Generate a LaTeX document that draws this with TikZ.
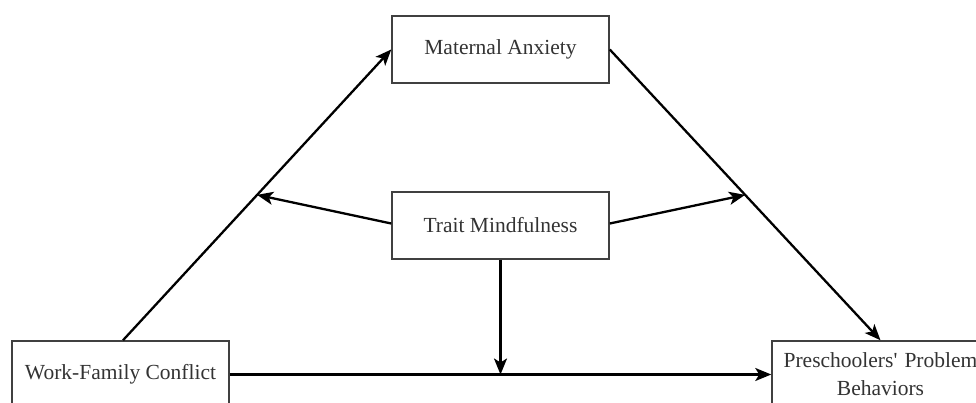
\documentclass[tikz,border=0pt]{standalone}
\usepackage{fontspec}
\setmainfont{Liberation Serif}
\usetikzlibrary{arrows.meta,calc}
\begin{document}
\begin{tikzpicture}[x=1pt,y=-1pt,
  box/.style={draw=black!75,line width=1.5pt,fill=white,minimum width=217pt,minimum height=67pt,inner sep=0pt,
    font=\fontsize{21.5}{28}\selectfont,text=black!80,align=center},
  conn/.style={draw=black,line width=2.3pt,-{Stealth[length=16pt,width=13pt,inset=4pt]}},
  ]
\useasboundingbox (0,0) rectangle (976,403);
\node[box] (ma) at (500.5,49.5) {Maternal Anxiety};
\node[box] (tm) at (500.5,225.5) {Trait Mindfulness};
\node[box] (wfc) at (120.5,374.5) {Work-Family Conflict};
\node[box,text width=210pt] (ppb) at (880.5,374.5) {Preschoolers\textquotesingle{} Problem\\Behaviors};
\coordinate (s1) at ($(wfc.north)+(2.5,0)$);
\coordinate (m1) at ($(s1)!0.5!(ma.west)$);
\coordinate (m2) at ($(ma.east)!0.5!(ppb.north)$);
\coordinate (m3) at (tm.south |- wfc.east);
\draw[conn] (s1) -- (ma.west);
\draw[conn] (ma.east) -- (ppb.north);
\draw[conn] ($(tm.west)+(0,-2)$) -- (m1);
\draw[conn] ($(tm.east)+(0,-2)$) -- (m2);
\draw[conn] (tm.south) -- (m3);
\draw[conn] (wfc.east) -- (ppb.west);
\end{tikzpicture}
\end{document}
